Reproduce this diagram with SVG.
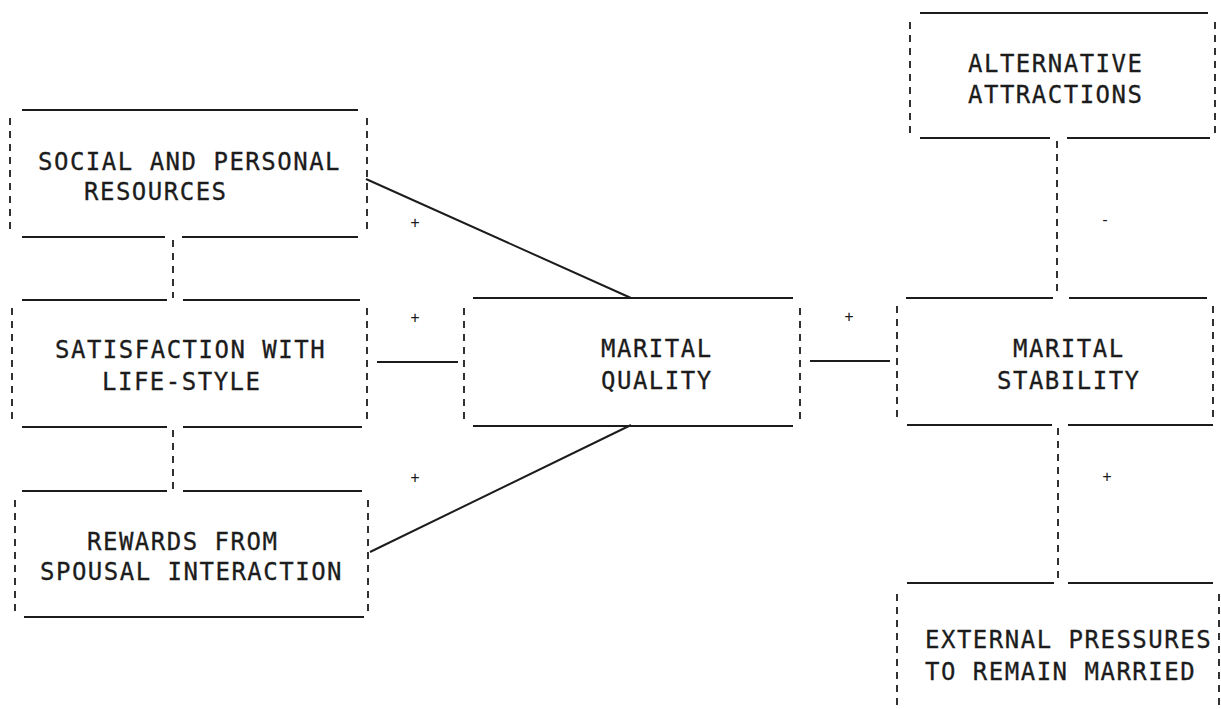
<svg xmlns="http://www.w3.org/2000/svg" width="1221" height="709" viewBox="0 0 1221 709">
<style>
.h{stroke:#1c1c1c;stroke-width:2;fill:none}
.d{stroke:#1c1c1c;stroke-width:1.8;fill:none;stroke-dasharray:7 6}
.t{font-family:"DejaVu Sans Mono","Liberation Mono",monospace;font-size:24px;letter-spacing:1.5px;fill:#1c1c1c;stroke:#1c1c1c;stroke-width:0.3}
.s{font-family:"DejaVu Sans Mono","Liberation Mono",monospace;font-size:15px;fill:#1c1c1c}
</style>
<rect width="1221" height="709" fill="#fff"/>
<g id="social">
<path class="h" d="M22 110H358M22 237H165M182 237H358"/>
<path class="d" d="M10 118V233M367 118V233"/>
<text class="t" x="38" y="170">SOCIAL AND PERSONAL</text>
<text class="t" x="84" y="200">RESOURCES</text>
</g>
<g id="satisfaction">
<path class="h" d="M22 300H167M183 300H360M22 427H167M183 427H362"/>
<path class="d" d="M12 308V424M367 308V424"/>
<text class="t" x="55" y="358">SATISFACTION WITH</text>
<text class="t" x="102" y="390">LIFE-STYLE</text>
</g>
<g id="rewards">
<path class="h" d="M22 491H167M183 491H362M24 617H364"/>
<path class="d" d="M15 500V614M368 500V614"/>
<text class="t" x="87" y="550">REWARDS FROM</text>
<text class="t" x="40" y="580">SPOUSAL INTERACTION</text>
</g>
<g id="quality">
<path class="h" d="M473 298H793M473 426H793"/>
<path class="d" d="M464 308V424M800 308V424"/>
<text class="t" x="601" y="357">MARITAL</text>
<text class="t" x="601" y="389">QUALITY</text>
</g>
<g id="stability">
<path class="h" d="M906 298H1053M1069 298H1207M907 425H1052M1068 425H1213"/>
<path class="d" d="M897 306V422M1213 306V422"/>
<text class="t" x="1013" y="357">MARITAL</text>
<text class="t" x="997" y="389">STABILITY</text>
</g>
<g id="alternative">
<path class="h" d="M920 13H1208M920 138H1050M1067 138H1210"/>
<path class="d" d="M910 22V134M1215 22V134"/>
<text class="t" x="968" y="72">ALTERNATIVE</text>
<text class="t" x="968" y="103">ATTRACTIONS</text>
</g>
<g id="external">
<path class="h" d="M907 583H1054M1068 583H1213"/>
<path class="d" d="M897 594V709M1219 594V709"/>
<text class="t" x="925" y="648">EXTERNAL PRESSURES</text>
<text class="t" x="925" y="680">TO REMAIN MARRIED</text>
</g>
<g id="connectors">
<path class="h" d="M366 179L631 298M370 552L631 425M377 362H458M810 361H890"/>
<path class="d" d="M173 240V298M173 430V490M1057 141V296M1058 428V582"/>
<text class="s" x="415" y="228" text-anchor="middle">+</text>
<text class="s" x="415" y="323" text-anchor="middle">+</text>
<text class="s" x="415" y="483" text-anchor="middle">+</text>
<text class="s" x="849" y="322" text-anchor="middle">+</text>
<text class="s" x="1105" y="225" text-anchor="middle">-</text>
<text class="s" x="1107" y="482" text-anchor="middle">+</text>
</g>
</svg>
